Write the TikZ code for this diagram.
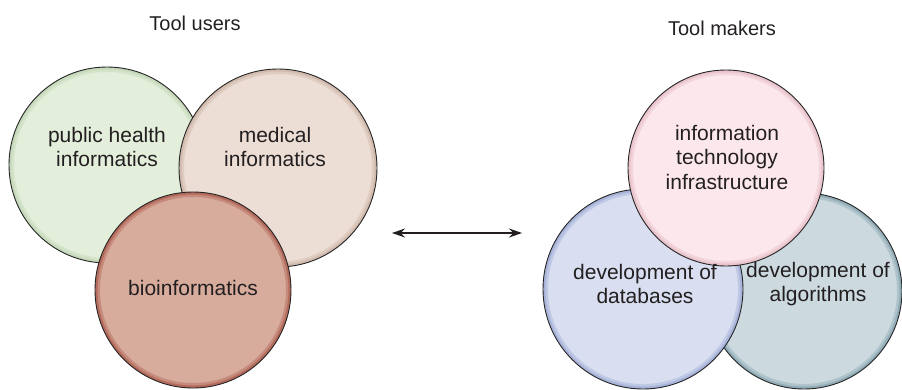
\documentclass[tikz,border=0pt]{standalone}
\usepackage{fontspec}
\setmainfont{Liberation Sans}
\usetikzlibrary{arrows.meta}
\definecolor{txt}{HTML}{231F20}
\definecolor{cgreen}{HTML}{E3EEDB}
\definecolor{egreen}{HTML}{C6DABB}
\definecolor{cmed}{HTML}{ECDED5}
\definecolor{emed}{HTML}{D2BBAE}
\definecolor{cbio}{HTML}{D7AC9D}
\definecolor{ebio}{HTML}{B46B5C}
\definecolor{cpink}{HTML}{FCE8EC}
\definecolor{epink}{HTML}{E9C4CC}
\definecolor{cblue}{HTML}{D9DFF1}
\definecolor{eblue}{HTML}{A7B3D8}
\definecolor{cteal}{HTML}{CCDAE0}
\definecolor{eteal}{HTML}{93ADB8}
\tikzset{
  bubble/.style={circle, draw=black!85, line width=0.9pt, inner sep=0pt, minimum size=#1},
  ring/.style 2 args={path picture={
    \draw[#1, opacity=0.5, line width=10pt] (path picture bounding box.center) circle (#2);
    \draw[#1, line width=5pt] (path picture bounding box.center) circle (#2);}},
  lbl/.style={font=\fontsize{21}{24.5}\selectfont, text=txt, align=center, inner sep=0pt},
  title/.style={font=\fontsize{20}{24}\selectfont, text=txt, inner sep=0pt, anchor=base},
}
\begin{document}
\begin{tikzpicture}[x=1pt, y=-1pt]
\useasboundingbox (0,0) rectangle (902,389);
% left group
\node[bubble=196pt, fill=cgreen, ring={egreen}{98pt}] (ph) at (107,165) {};
\node[bubble=198pt, fill=cmed, ring={emed}{99pt}] (med) at (278,168) {};
\node[bubble=196pt, fill=cbio, ring={ebio}{98pt}] (bio) at (193,290) {};
\node[lbl] (phl) at (107,147) {public health\\informatics};
\node[lbl] (medl) at (275,147) {medical\\informatics};
\node[lbl, anchor=base] (biol) at (193,295) {bioinformatics};
\node[title] (users) at (195,30) {Tool users};
% right group
\node[bubble=196pt, fill=cteal, ring={eteal}{98pt}] (alg) at (804,291) {};
\node[bubble=200pt, fill=cblue, ring={eblue}{100pt}] (db) at (643,289) {};
\node[bubble=196pt, fill=cpink, ring={epink}{98pt}] (it) at (726,168) {};
\node[lbl] (itl) at (727,157) {information\\technology\\infrastructure};
\node[lbl] (dbl) at (645,284) {development of\\databases};
\node[lbl] (algl) at (818,284) {development of\\algorithms};
\node[title] (makers) at (722,35) {Tool makers};
% arrow
\coordinate (aL) at (392,233);
\coordinate (aR) at (522,233);
\draw[{Stealth[length=13pt,width=9pt]}-{Stealth[length=13pt,width=9pt]}, line width=1.2pt, draw=txt] (aL) -- (aR);
\end{tikzpicture}
\end{document}
